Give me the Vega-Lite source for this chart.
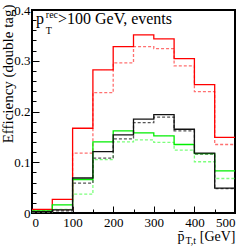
{
  "$schema": "https://vega.github.io/schema/vega-lite/v6.json",
  "width": 203,
  "height": 203,
  "autosize": {"type": "none"},
  "padding": {"left": 32, "top": 10, "right": 13, "bottom": 36},
  "background": "white",
  "config": {
    "view": {"stroke": "black", "strokeWidth": 2},
    "axis": {
      "domain": false,
      "grid": false,
      "labelFont": "Liberation Serif",
      "labelFontSize": 13,
      "labelColor": "black",
      "tickColor": "black",
      "tickWidth": 1,
      "titleFont": "Liberation Serif",
      "titleFontWeight": "normal",
      "titleColor": "black"
    }
  },
  "datasets": {
    "hist": [
      {"curve": "red dashed", "x": 0, "eff": 0.005},
      {"curve": "red dashed", "x": 50, "eff": 0.006},
      {"curve": "red dashed", "x": 100, "eff": 0.118},
      {"curve": "red dashed", "x": 150, "eff": 0.237},
      {"curve": "red dashed", "x": 200, "eff": 0.296},
      {"curve": "red dashed", "x": 250, "eff": 0.328},
      {"curve": "red dashed", "x": 300, "eff": 0.324},
      {"curve": "red dashed", "x": 350, "eff": 0.290},
      {"curve": "red dashed", "x": 400, "eff": 0.239},
      {"curve": "red dashed", "x": 450, "eff": 0.135},
      {"curve": "red dashed", "x": 500, "eff": 0.135},
      {"curve": "green dashed", "x": 0, "eff": 0.002},
      {"curve": "green dashed", "x": 50, "eff": 0.007},
      {"curve": "green dashed", "x": 100, "eff": 0.037},
      {"curve": "green dashed", "x": 150, "eff": 0.105},
      {"curve": "green dashed", "x": 200, "eff": 0.140},
      {"curve": "green dashed", "x": 250, "eff": 0.144},
      {"curve": "green dashed", "x": 300, "eff": 0.139},
      {"curve": "green dashed", "x": 350, "eff": 0.124},
      {"curve": "green dashed", "x": 400, "eff": 0.101},
      {"curve": "green dashed", "x": 450, "eff": 0.068},
      {"curve": "green dashed", "x": 500, "eff": 0.068},
      {"curve": "black dashed", "x": 0, "eff": 0.002},
      {"curve": "black dashed", "x": 50, "eff": 0.004},
      {"curve": "black dashed", "x": 100, "eff": 0.059},
      {"curve": "black dashed", "x": 150, "eff": 0.108},
      {"curve": "black dashed", "x": 200, "eff": 0.146},
      {"curve": "black dashed", "x": 250, "eff": 0.178},
      {"curve": "black dashed", "x": 300, "eff": 0.189},
      {"curve": "black dashed", "x": 350, "eff": 0.162},
      {"curve": "black dashed", "x": 400, "eff": 0.116},
      {"curve": "black dashed", "x": 450, "eff": 0.048},
      {"curve": "black dashed", "x": 500, "eff": 0.048},
      {"curve": "red solid", "x": 0, "eff": 0.0073},
      {"curve": "red solid", "x": 50, "eff": 0.027},
      {"curve": "red solid", "x": 100, "eff": 0.167},
      {"curve": "red solid", "x": 150, "eff": 0.282},
      {"curve": "red solid", "x": 200, "eff": 0.328},
      {"curve": "red solid", "x": 250, "eff": 0.351},
      {"curve": "red solid", "x": 300, "eff": 0.343},
      {"curve": "red solid", "x": 350, "eff": 0.304},
      {"curve": "red solid", "x": 400, "eff": 0.253},
      {"curve": "red solid", "x": 450, "eff": 0.149},
      {"curve": "red solid", "x": 500, "eff": 0.149},
      {"curve": "green solid", "x": 0, "eff": 0.004},
      {"curve": "green solid", "x": 50, "eff": 0.016},
      {"curve": "green solid", "x": 100, "eff": 0.066},
      {"curve": "green solid", "x": 150, "eff": 0.140},
      {"curve": "green solid", "x": 200, "eff": 0.162},
      {"curve": "green solid", "x": 250, "eff": 0.158},
      {"curve": "green solid", "x": 300, "eff": 0.152},
      {"curve": "green solid", "x": 350, "eff": 0.135},
      {"curve": "green solid", "x": 400, "eff": 0.117},
      {"curve": "green solid", "x": 450, "eff": 0.083},
      {"curve": "green solid", "x": 500, "eff": 0.083},
      {"curve": "black solid", "x": 0, "eff": 0.0026},
      {"curve": "black solid", "x": 50, "eff": 0.006},
      {"curve": "black solid", "x": 100, "eff": 0.069},
      {"curve": "black solid", "x": 150, "eff": 0.121},
      {"curve": "black solid", "x": 200, "eff": 0.154},
      {"curve": "black solid", "x": 250, "eff": 0.185},
      {"curve": "black solid", "x": 300, "eff": 0.194},
      {"curve": "black solid", "x": 350, "eff": 0.165},
      {"curve": "black solid", "x": 400, "eff": 0.118},
      {"curve": "black solid", "x": 450, "eff": 0.049},
      {"curve": "black solid", "x": 500, "eff": 0.049}
    ]
  },
  "layer": [
    {
      "data": {"name": "hist"},
      "mark": {"type": "line", "interpolate": "step-after", "clip": true},
      "encoding": {
        "x": {
          "field": "x", "type": "quantitative",
          "scale": {"domain": [0, 500], "nice": false, "zero": false},
          "axis": {
            "values": [0, 100, 200, 300, 400, 500],
            "tickSize": -7, "labelPadding": 10,
            "title": "[GeV]", "titleFontSize": 14,
            "titleAlign": "right", "titleBaseline": "alphabetic",
            "titleX": 203, "titleY": 27
          }
        },
        "y": {
          "field": "eff", "type": "quantitative",
          "scale": {"domain": [0, 0.4], "nice": false, "zero": false},
          "axis": {
            "values": [0, 0.1, 0.2, 0.3, 0.4],
            "format": "~g",
            "tickSize": -7, "labelPadding": 9,
            "title": "Efficiency (double tag)", "titleFontSize": 15,
            "titleAngle": 270, "titleAlign": "right", "titleBaseline": "alphabetic",
            "titleX": -20, "titleY": -6
          }
        },
        "color": {
          "field": "curve", "type": "nominal", "legend": null,
          "scale": {
            "domain": ["red dashed", "green dashed", "black dashed", "red solid", "green solid", "black solid"],
            "range": ["#ff7070", "#7cff7c", "#555555", "#ff0000", "#00ee00", "#111111"]
          }
        },
        "strokeDash": {
          "field": "curve", "type": "nominal", "legend": null,
          "scale": {
            "domain": ["red dashed", "green dashed", "black dashed", "red solid", "green solid", "black solid"],
            "range": [[3, 2], [3, 2], [3, 2], [1, 0], [1, 0], [1, 0]]
          }
        },
        "strokeWidth": {
          "field": "curve", "type": "nominal", "legend": null,
          "scale": {
            "domain": ["red dashed", "green dashed", "black dashed", "red solid", "green solid", "black solid"],
            "range": [1.3, 1.3, 1.3, 2, 2, 2]
          }
        }
      }
    },
    {
      "data": {"values": [{}]},
      "mark": {"type": "text", "text": "p", "fontSize": 16, "font": "Liberation Serif", "color": "black", "align": "left", "baseline": "alphabetic"},
      "encoding": {
        "x": {
          "datum": 10, "type": "quantitative",
          "scale": {"domain": [0, 500], "nice": false, "zero": false},
          "axis": {
            "orient": "bottom",
            "values": [50, 150, 250, 350, 450],
            "tickSize": -4, "labels": false,
            "title": "p\u0304", "titleFontSize": 14,
            "titleAlign": "left", "titleBaseline": "alphabetic",
            "titleX": 145, "titleY": 27
          }
        },
        "y": {
          "datum": 0.372, "type": "quantitative",
          "scale": {"domain": [0, 0.4], "nice": false, "zero": false},
          "axis": {
            "orient": "left",
            "values": [0.02, 0.04, 0.06, 0.08, 0.12, 0.14, 0.16, 0.18, 0.22, 0.24, 0.26, 0.28, 0.32, 0.34, 0.36, 0.38],
            "tickSize": -4, "labels": false, "title": null
          }
        }
      }
    },
    {
      "data": {"values": [{}]},
      "mark": {"type": "text", "text": "rec", "fontSize": 10, "font": "Liberation Serif", "color": "black", "align": "left", "baseline": "alphabetic"},
      "encoding": {
        "x": {
          "datum": 34, "type": "quantitative",
          "scale": {"domain": [0, 500], "nice": false, "zero": false},
          "axis": {
            "orient": "bottom", "ticks": false, "labels": false,
            "title": "T,t", "titleFontSize": 10,
            "titleAlign": "left", "titleBaseline": "alphabetic",
            "titleX": 153, "titleY": 30
          }
        },
        "y": {
          "datum": 0.385, "type": "quantitative",
          "scale": {"domain": [0, 0.4], "nice": false, "zero": false},
          "axis": null
        }
      }
    },
    {
      "data": {"values": [{}]},
      "mark": {"type": "text", "text": "T", "fontSize": 10, "font": "Liberation Serif", "color": "black", "align": "left", "baseline": "alphabetic"},
      "encoding": {
        "x": {"datum": 34, "type": "quantitative", "scale": {"domain": [0, 500], "nice": false, "zero": false}, "axis": null},
        "y": {"datum": 0.353, "type": "quantitative", "scale": {"domain": [0, 0.4], "nice": false, "zero": false}, "axis": null}
      }
    },
    {
      "data": {"values": [{}]},
      "mark": {"type": "text", "text": ">100 GeV, events", "fontSize": 16, "font": "Liberation Serif", "color": "black", "align": "left", "baseline": "alphabetic"},
      "encoding": {
        "x": {"datum": 64, "type": "quantitative", "scale": {"domain": [0, 500], "nice": false, "zero": false}, "axis": null},
        "y": {"datum": 0.372, "type": "quantitative", "scale": {"domain": [0, 0.4], "nice": false, "zero": false}, "axis": null}
      }
    }
  ],
  "resolve": {"axis": {"x": "independent", "y": "independent"}}
}
